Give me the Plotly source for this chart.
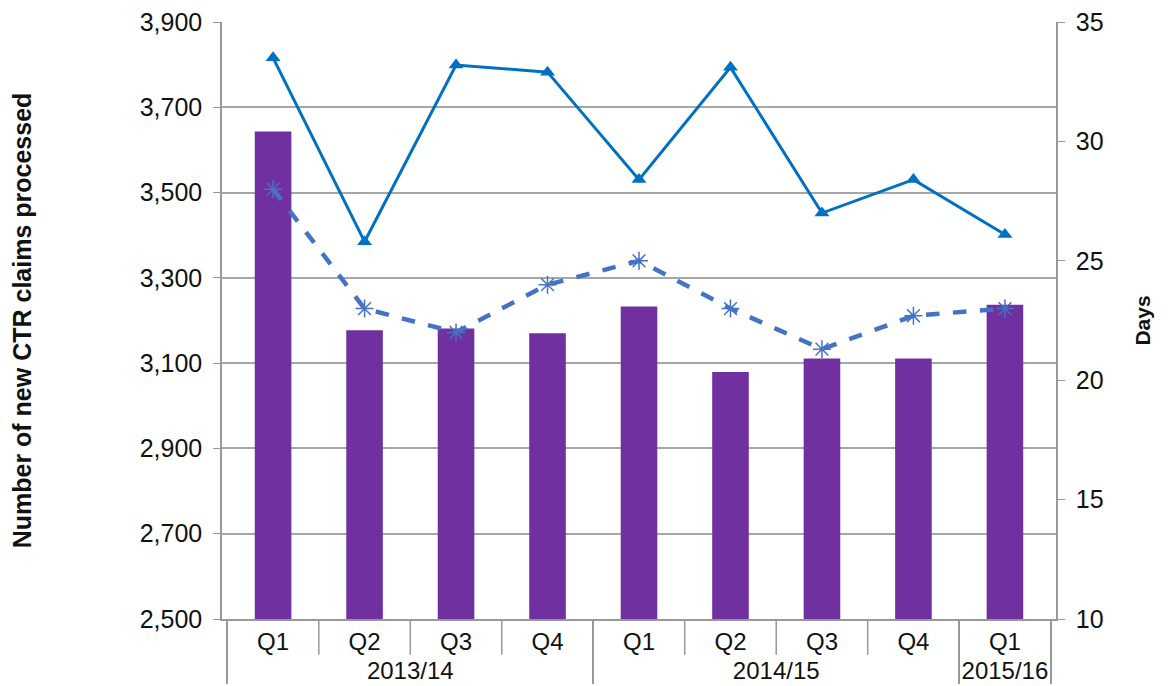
import plotly.graph_objects as go

years = ["2013/14"] * 4 + ["2014/15"] * 4 + ["2015/16"]
quarters = ["Q1", "Q2", "Q3", "Q4", "Q1", "Q2", "Q3", "Q4", "Q1"]
claims = [3643, 3177, 3181, 3170, 3233, 3079, 3111, 3111, 3237]
days_solid = [33.5, 25.8, 33.2, 32.9, 28.4, 33.1, 27.0, 28.4, 26.1]
days_dashed = [28.0, 23.0, 22.0, 24.0, 25.0, 23.0, 21.3, 22.7, 23.0]

x = [years, quarters]
FONT = "Liberation Sans, Arial, sans-serif"
AX = "#999999"

fig = go.Figure()
fig.add_trace(go.Bar(x=x, y=claims, marker=dict(color="#7030A0", line=dict(width=0)),
                     width=0.4, yaxis="y", showlegend=False))
fig.add_trace(go.Scatter(x=x, y=days_solid, yaxis="y2", mode="lines+markers",
                         line=dict(color="#0070C0", width=3),
                         marker=dict(symbol="triangle-up", size=13, color="#0070C0"),
                         showlegend=False))
fig.add_trace(go.Scatter(x=x, y=days_dashed, yaxis="y2", mode="lines+markers",
                         line=dict(color="#4472C4", width=4.5, dash="dash"),
                         marker=dict(symbol="asterisk-open", size=15,
                                     line=dict(color="#4472C4", width=1.5)),
                         showlegend=False))

# short dividers between quarters within the first label row
for i in range(len(quarters) - 1):
    if years[i] == years[i + 1]:
        fig.add_shape(type="line", xref="x", yref="paper", x0=i + 0.5, x1=i + 0.5,
                      y0=0, y1=-0.06, line=dict(color=AX, width=1.5))

fig.update_layout(
    width=1163, height=678,
    margin=dict(l=214, r=115, t=14, b=67),
    paper_bgcolor="white", plot_bgcolor="white",
    font=dict(family=FONT, size=24, color="#111"),
    xaxis=dict(type="multicategory", showline=True, linecolor=AX, linewidth=1.5,
               ticks="", showgrid=False, showdividers=True, dividercolor=AX,
               dividerwidth=1.5, tickfont=dict(size=24, color="#111"),
               automargin=False),
    yaxis=dict(range=[2500, 3900], tick0=2500, dtick=200, tickformat=",", showgrid=True,
               gridcolor="#A6A6A6", gridwidth=1.5, showline=True, linecolor=AX,
               linewidth=1.5, ticks="outside", ticklen=7, tickcolor=AX,
               ticklabelstandoff=6, tickfont=dict(size=25, color="#111"),
               ticklabeloverflow="allow",
               zeroline=False, automargin=False,
               title=dict(text="<b>Number of new CTR claims processed</b>",
                          font=dict(size=25, color="#111"), standoff=108)),
    yaxis2=dict(range=[10, 35], tick0=10, dtick=5, overlaying="y", side="right",
                showgrid=False, showline=True, linecolor=AX, linewidth=1.5,
                ticks="outside", ticklen=7, tickcolor=AX, zeroline=False,
                ticklabelstandoff=6, tickfont=dict(size=25, color="#111"),
                ticklabeloverflow="allow",
                automargin=False,
                title=dict(text="<b>Days</b>", font=dict(size=21, color="#111"),
                           standoff=33)),
)

fig.write_html("out.html")
